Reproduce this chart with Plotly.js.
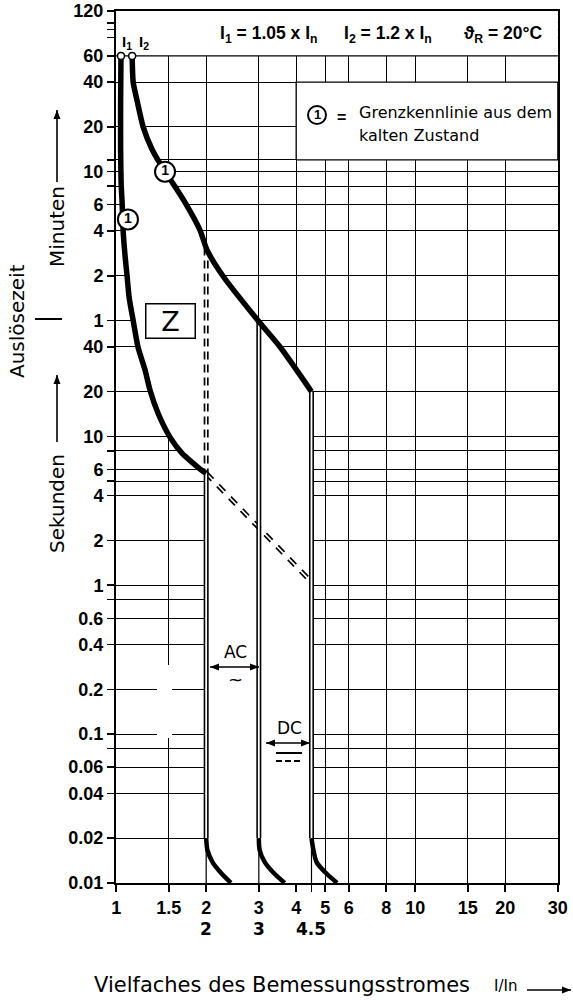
<!DOCTYPE html>
<html><head><meta charset="utf-8">
<script src="https://cdn.plot.ly/plotly-3.0.1.min.js"></script>
<style>html,body{margin:0;padding:0;background:#fff}#chart{width:573px;height:1000px}</style>
</head><body><div id="chart"></div>
<script>
// ---------------- data ----------------
const xTickVals = [1, 1.5, 2, 3, 4, 5, 6, 8, 10, 15, 20, 30];
const xTickText = ['1', '1.5', '2', '3', '4', '5', '6', '8', '10', '15', '20', '30'];
const xMinorTicks = [4.5];
const xSecondRow = [2, 3, 4.5];
const xSecondRowText = ['2', '3', '4.5'];

const yMinuteTicks = [120, 60, 40, 20, 10, 6, 4, 2, 1];
const yMinuteText  = ['120', '60', '40', '20', '10', '6', '4', '2', '1'];
const ySecondTicks = [40, 20, 10, 6, 4, 2, 1, 0.6, 0.4, 0.2, 0.1, 0.06, 0.04, 0.02, 0.01];
const ySecondText  = ['40', '20', '10', '6', '4', '2', '1', '0.6', '0.4', '0.2', '0.1', '0.06', '0.04', '0.02', '0.01'];
const yMinorMinutes = [100, 90, 80, 12, 8];
const yMinorSeconds = [8, 5, 0.8, 0.08];

// lower limit curve (from I1), x = I/In, t in seconds
const lowerX = [1.038, 1.035, 1.035, 1.039, 1.047, 1.055, 1.072, 1.088, 1.105, 1.14, 1.184, 1.25, 1.298, 1.381, 1.515, 1.662, 1.937, 2.0];
const lowerT = [3600, 1800, 846, 504, 372, 243, 160, 119, 86, 60, 39.6, 27.8, 20.4, 14.3, 9.85, 7.69, 5.9, 5.65];
// upper limit curve (from I2)
const upperX = [1.131, 1.14, 1.175, 1.231, 1.319, 1.458, 1.551, 1.701, 1.907, 2.015, 2.279, 2.98, 3.53, 4.5];
const upperT = [3600, 2400, 1800, 1200, 846, 600, 498, 372, 243, 178, 119, 60, 40, 20];
// instantaneous tripping tails
const tailT   = [0.02, 0.0166, 0.0138, 0.0117, 0.01];
const tail2X  = [2.0, 2.02, 2.10, 2.24, 2.42];
const tail3X  = [3.0, 3.02, 3.14, 3.36, 3.66];
const tail45X = [4.5, 4.57, 4.68, 5.02, 5.48];
// magnetic release limits (AC: 2..3, DC: up to 4.5)
const limitX = [2, 3, 4.5];
const tailStartT = 0.02;
// dashed diagonal (extension of lower curve)
const diagX = [2, 4.5];
const diagT = [5.65, 1.05];
// markers
const iMarkX = [1.038, 1.131];
const iMarkT = [3600, 3600];
const circleX = [1.457, 1.095];
const circleT = [600, 287];
// header band and legend box (in axis units)
const headerX = [1, 30];
const headerT = [3600, 7200];
const legendBoxX = [4, 30];
const legendBoxT = [720, 2400];

// ---------------- helpers ----------------
const tickVals = yMinuteTicks.map(m => m * 60).concat(ySecondTicks);
const tickText = yMinuteText.concat(ySecondText);
const minorVals = yMinorMinutes.map(m => m * 60).concat(yMinorSeconds);
const tMin = Math.min(...ySecondTicks), tMax = Math.max(...yMinuteTicks) * 60;
const xMin = Math.min(...xTickVals), xMax = Math.max(...xTickVals);

function interpT(xs, ts, xq) {
  for (let i = 0; i < xs.length - 1; i++) {
    if (xq >= xs[i] && xq <= xs[i + 1]) {
      const f = (Math.log(xq) - Math.log(xs[i])) / (Math.log(xs[i + 1]) - Math.log(xs[i]));
      return Math.exp(Math.log(ts[i]) + f * (Math.log(ts[i + 1]) - Math.log(ts[i])));
    }
  }
  return ts[ts.length - 1];
}

const K = '#000';
const traces = [];
const skip = {hoverinfo: 'skip', showlegend: false};
const lowEndT = lowerT[lowerT.length - 1];

// white header band (covers grid above 60 min)
traces.push(Object.assign({x: [headerX[0], headerX[1], headerX[1], headerX[0], headerX[0]],
  y: [headerT[0], headerT[0], headerT[1], headerT[1], headerT[0]], mode: 'lines', fill: 'toself',
  fillcolor: '#fff', line: {width: 0}}, skip));

// white tripping band between the curves
const bandX = lowerX.concat([limitX[0], limitX[2]]).concat(upperX.slice().reverse());
const bandT = lowerT.concat([tMin, tMin]).concat(upperT.slice().reverse());
traces.push(Object.assign({x: bandX, y: bandT, mode: 'lines', fill: 'toself', fillcolor: '#fff',
  line: {width: 0}}, skip));

// legend box
traces.push(Object.assign({x: [legendBoxX[0], legendBoxX[1], legendBoxX[1], legendBoxX[0], legendBoxX[0]],
  y: [legendBoxT[0], legendBoxT[0], legendBoxT[1], legendBoxT[1], legendBoxT[0]], mode: 'lines',
  fill: 'toself', fillcolor: '#fff', line: {width: 1.3, color: K}}, skip));

// 60 min grid line redrawn
traces.push(Object.assign({x: [xMin, xMax], y: [headerT[0], headerT[0]], mode: 'lines',
  line: {width: 1.2, color: K}}, skip));

// thin verticals below tails
const thinX = [], thinT = [];
limitX.forEach(v => { thinX.push(v, v, null); thinT.push(tMin, tailStartT, null); });
traces.push(Object.assign({x: thinX, y: thinT, mode: 'lines', line: {width: 1.2, color: K}}, skip));

// dashed diagonal double line
traces.push(Object.assign({x: diagX, y: diagT, mode: 'lines', line: {width: 5, color: K, dash: '9px,8px'}}, skip));
traces.push(Object.assign({x: diagX, y: diagT, mode: 'lines', line: {width: 1.6, color: '#fff'}}, skip));

// dashed double vertical at x=2 between the curves
const dashTop = interpT(upperX, upperT, limitX[0]);
traces.push(Object.assign({x: [limitX[0], limitX[0]], y: [dashTop, lowEndT], mode: 'lines',
  line: {width: 5, color: K, dash: '8px,5px'}}, skip));
traces.push(Object.assign({x: [limitX[0], limitX[0]], y: [dashTop, lowEndT], mode: 'lines',
  line: {width: 1.6, color: '#fff'}}, skip));

// solid double verticals
const vTops = [lowEndT, interpT(upperX, upperT, limitX[1]), upperT[upperT.length - 1]];
const dvX = [], dvT = [];
limitX.forEach((v, i) => { dvX.push(v, v, null); dvT.push(vTops[i], tailStartT, null); });
traces.push(Object.assign({x: dvX, y: dvT, mode: 'lines', line: {width: 5, color: K}}, skip));
traces.push(Object.assign({x: dvX, y: dvT, mode: 'lines', line: {width: 1.8, color: '#fff'}}, skip));

// thick curves
traces.push(Object.assign({x: lowerX, y: lowerT, mode: 'lines', line: {width: 5.5, color: K, shape: 'spline', smoothing: 0.6}}, skip));
traces.push(Object.assign({x: upperX, y: upperT, mode: 'lines', line: {width: 5.5, color: K, shape: 'spline', smoothing: 0.6}}, skip));
[tail2X, tail3X, tail45X].forEach(tx => {
  traces.push(Object.assign({x: tx, y: tailT, mode: 'lines', line: {width: 4.5, color: K, shape: 'spline', smoothing: 0.8}}, skip));
});

// markers
traces.push(Object.assign({x: iMarkX, y: iMarkT, mode: 'markers',
  marker: {size: 7, color: '#fff', line: {width: 1.5, color: K}}}, skip));
traces.push(Object.assign({x: circleX, y: circleT, mode: 'markers+text', text: ['1', '1'],
  textposition: 'middle center', textfont: {family: 'Liberation Sans, Arial, sans-serif', size: 14, color: K, weight: 'bold'},
  marker: {size: 20, color: '#fff', line: {width: 2, color: K}}}, skip));

// ---------------- layout ----------------
const L = 116, R = 558, T = 11, B = 883;
const PX = v => (v - L) / (R - L);
const PY = v => (B - v) / (B - T);
const REG = 'DejaVu Sans, Liberation Sans, sans-serif';
const BOLD = 'Liberation Sans, Arial, sans-serif';

const ann = [];
const shapes = [];
function txt(text, x, y, font, extra) {
  ann.push(Object.assign({xref: 'paper', yref: 'paper', x: PX(x), y: PY(y), text: text, showarrow: false,
    xanchor: 'center', yanchor: 'middle', font: Object.assign({color: K}, font)}, extra || {}));
}
function head(hx, hy, fx, fy) {
  const dx = hx - fx, dy = hy - fy, len = Math.hypot(dx, dy), ux = dx / len, uy = dy / len;
  const bx = hx - 9 * ux, by = hy - 9 * uy, px = -uy * 3.5, py = ux * 3.5;
  shapes.push({type: 'path', xref: 'paper', yref: 'paper', fillcolor: K, line: {width: 0},
    path: `M ${PX(hx)},${PY(hy)} L ${PX(bx + px)},${PY(by + py)} L ${PX(bx - px)},${PY(by - py)} Z`});
}
function arrow(x1, y1, x2, y2, both) {
  shapes.push({type: 'line', xref: 'paper', yref: 'paper', x0: PX(x1), y0: PY(y1), x1: PX(x2), y1: PY(y2),
    line: {width: 1.6, color: K}});
  head(x2, y2, x1, y1);
  if (both) head(x1, y1, x2, y2);
}

// header
txt('<b>I<sub>1</sub> = 1.05 x I<sub>n</sub></b>', 269, 35, {family: BOLD, size: 17.5});
txt('<b>I<sub>2</sub> = 1.2 x I<sub>n</sub></b>', 388, 35, {family: BOLD, size: 17.5});
txt('<b>ϑ<sub>R</sub> = 20°C</b>', 503, 35, {family: BOLD, size: 17.5});
txt('<b>I<sub>1</sub></b>', 127, 42, {family: BOLD, size: 15});
txt('<b>I<sub>2</sub></b>', 144, 42, {family: BOLD, size: 15});
// legend
shapes.push({type: 'circle', xref: 'paper', yref: 'paper', x0: PX(308), x1: PX(326), y0: PY(124), y1: PY(106), line: {width: 2, color: K}, fillcolor: '#fff'});
txt('<b>1</b>', 317, 115, {family: BOLD, size: 13});
txt('<b>=</b>', 341, 117, {family: BOLD, size: 16});
txt('Grenzkennlinie aus dem', 357, 112, {family: REG, size: 16}, {xanchor: 'left'});
txt('kalten Zustand', 357, 135, {family: REG, size: 16}, {xanchor: 'left'});
// Z
txt('Z', 170, 321, {family: REG, size: 27}, {bordercolor: K, borderwidth: 1.5, borderpad: 1, width: 46, height: 31, bgcolor: '#fff'});
// AC / DC
txt('AC', 235, 652, {family: REG, size: 17});
txt('~', 235, 679, {family: REG, size: 18});
arrow(210, 667, 259, 667, true);
txt('DC', 289, 728, {family: REG, size: 17});
arrow(266, 743, 310, 743, true);
shapes.push({type: 'line', xref: 'paper', yref: 'paper', x0: PX(276), x1: PX(302), y0: PY(753), y1: PY(753), line: {width: 2, color: K}});
shapes.push({type: 'line', xref: 'paper', yref: 'paper', x0: PX(276), x1: PX(302), y0: PY(761), y1: PY(761), line: {width: 2, color: K, dash: '6px,3px'}});
// axis titles
txt('Auslösezeit', 17, 321, {family: REG, size: 20}, {textangle: -90});
txt('Minuten', 57, 227, {family: REG, size: 20}, {textangle: -90});
arrow(57, 182, 57, 110, false);
shapes.push({type: 'line', xref: 'paper', yref: 'paper', x0: PX(35), x1: PX(62), y0: PY(319), y1: PY(319), line: {width: 2, color: K}});
txt('Sekunden', 57, 504, {family: REG, size: 20}, {textangle: -90});
arrow(57, 442, 57, 375, false);
txt('Vielfaches des Bemessungsstromes', 282, 985, {family: REG, size: 21});
txt('I/In', 505, 986, {family: REG, size: 15});
arrow(527, 990, 571, 990, false);
// second row of x labels (in axis coordinates)
xSecondRow.forEach((v, i) => {
  ann.push({xref: 'x', yref: 'paper', x: Math.log10(v), y: PY(929), text: '<b>' + xSecondRowText[i] + '</b>',
    showarrow: false, xanchor: 'center', yanchor: 'middle', font: {family: 'DejaVu Sans, sans-serif', size: 17, color: K}});
});
// erased spot of the original drawing
shapes.push({type: 'rect', xref: 'paper', yref: 'paper', x0: PX(157), x1: PX(172), y0: PY(738), y1: PY(665), line: {width: 0}, fillcolor: '#fff', layer: 'above'});

const axisCommon = {
  type: 'log', showline: true, linewidth: 2, linecolor: K, mirror: true,
  showgrid: true, gridcolor: K, gridwidth: 1, zeroline: false,
  ticks: 'outside', ticklen: 7, tickwidth: 1.5, tickcolor: K, fixedrange: true,
  ticklabeloverflow: 'allow',
  tickmode: 'array', tickfont: {family: BOLD, size: 18, color: K, weight: 'bold'}
};

const layout = {
  width: 573, height: 1000,
  margin: {l: L, r: 573 - R, t: T, b: 1000 - B, pad: 0},
  paper_bgcolor: '#fff', plot_bgcolor: '#fff', showlegend: false,
  xaxis: Object.assign({}, axisCommon, {range: [Math.log10(xMin) - 0.0005, Math.log10(xMax) + 0.0005], tickvals: xTickVals, ticktext: xTickText,
    minor: {tickmode: 'array', tickvals: xMinorTicks, ticks: 'outside', ticklen: 7, tickwidth: 1.5, tickcolor: K, showgrid: false}}),
  yaxis: Object.assign({}, axisCommon, {range: [Math.log10(tMin) - 0.0005, Math.log10(tMax) + 0.0005], tickvals: tickVals, ticktext: tickText,
    minor: {tickmode: 'array', tickvals: minorVals, ticks: 'outside', ticklen: 7, tickwidth: 1.5, tickcolor: K, showgrid: true, gridcolor: K, gridwidth: 1}}),
  annotations: ann, shapes: shapes
};

Plotly.newPlot('chart', traces, layout, {staticPlot: true, displayModeBar: false});
</script></body></html>
